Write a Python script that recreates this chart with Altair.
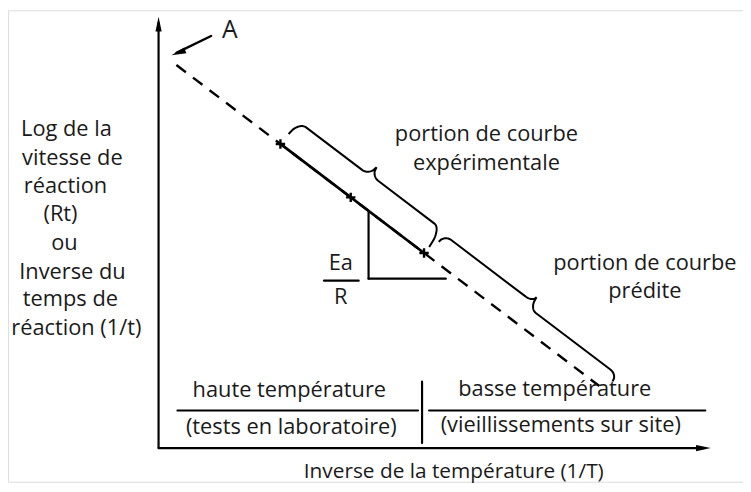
import altair as alt
import numpy as np
import pandas as pd

# ---- frame: data units laid out on a 751x492 sheet ----
W, H = 742, 476
FONT = "Open Sans"
INK = "#1a1a1a"
FS = 22

# ---- axes (schematic) ----
y_axis_x = [160, 160]
y_axis_y = [450, 15]
x_axis_x = [160, 717]
x_axis_y = [450, 450]

# ---- Arrhenius line: log rate vs 1/T ----
line_anchor = (283.0, 143.0)
line_slope = 0.759
dashed_x = [178, 605]
solid_x = [283, 428]
cross_x = [283, 354, 428]

def line_y(x):
    return line_anchor[1] + line_slope * (np.asarray(x, float) - line_anchor[0])

# slope triangle (Ea / R)
tri_x = 372
tri_bottom = 279
tri_right = 450

# point A arrow
a_from = (213, 34)
a_to = (174, 53)

# brace parameters (along-line start/end, offsets)
braces = [
    dict(name="exp", s0=0.5, s1=182.5, v0=13, a1=29, peak=40, a2=30, v1=8, r=10),
    dict(name="pred", s0=187, s1=412, v0=18, a1=27, peak=33, a2=20, v1=12, r=9),
]

# bottom temperature table
bottom_rule_y = 412
left_rule = [179, 422]
right_rule = [433, 712]
sep_x = 426
sep_y = [383, 445]

left_lines = ["Log de la", "vitesse de", "réaction", "(Rt)", "ou",
              "Inverse du", "temps de", "réaction (1/t)"]
left_cx = [67, 73, 66, 61, 65, 73, 71, 77]
left_cy = [128, 157, 185, 214, 243, 272, 300, 329]

labels = pd.DataFrame({
    "text": ["portion de courbe", "expérimentale", "portion de courbe", "prédite",
             "haute température", "(tests en laboratoire)", "basse température",
             "(vieillissements sur site)", "Ea", "R"],
    "x": [491, 491, 651, 651, 292, 294, 560, 566, 344, 344],
    "y": [133, 162, 263, 291, 391, 429, 390, 427, 263, 298],
})
title = pd.DataFrame({"text": ["Inverse de la température (1/T)"], "x": [458], "y": [474]})

# ---------- build geometry tables ----------
d = np.array([1.0, line_slope]); d /= np.linalg.norm(d)
n = np.array([d[1], -d[0]])
P0 = np.array(line_anchor)

def brace_pts(b, k=14):
    s0, s1, r = b["s0"], b["s1"], b["r"]
    mid = (s0 + s1) / 2
    w = np.linspace(0, 1, k)
    us, vs = [], []
    us.append(s0 + r * w); vs.append(b["v0"] + (b["a1"] - b["v0"]) * np.sqrt(1 - (1 - w) ** 2))
    us.append(np.array([mid - r])); vs.append(np.array([b["a1"]]))
    us.append(mid - r + r * w); vs.append(b["a1"] + (b["peak"] - b["a1"]) * (1 - np.sqrt(np.clip(1 - w ** 2, 0, 1))))
    us.append(mid + r * w); vs.append(b["a2"] + (b["peak"] - b["a2"]) * (1 - np.sqrt(np.clip(1 - (1 - w) ** 2, 0, 1))))
    us.append(np.array([s1 - r])); vs.append(np.array([b["a2"]]))
    us.append(s1 - r + r * w); vs.append(b["v1"] + (b["a2"] - b["v1"]) * np.sqrt(np.clip(1 - w ** 2, 0, 1)))
    u = np.concatenate(us); v = np.concatenate(vs)
    pts = P0[None, :] + u[:, None] * d[None, :] + v[:, None] * n[None, :]
    return pd.DataFrame({"x": pts[:, 0], "y": pts[:, 1], "o": np.arange(len(u)), "b": b["name"]})

brace_df = pd.concat([brace_pts(b) for b in braces], ignore_index=True)

segs = pd.DataFrame([
    dict(x=y_axis_x[0], y=y_axis_y[0], x2=y_axis_x[1], y2=y_axis_y[1] + 6, w=2.2),
    dict(x=x_axis_x[0], y=x_axis_y[0], x2=x_axis_x[1] - 6, y2=x_axis_y[1], w=2.2),
    dict(x=solid_x[0], y=float(line_y(solid_x[0])), x2=solid_x[1], y2=float(line_y(solid_x[1])), w=2.8),
    dict(x=tri_x, y=float(line_y(tri_x)), x2=tri_x, y2=tri_bottom, w=2.2),
    dict(x=tri_x, y=tri_bottom, x2=tri_right, y2=tri_bottom, w=2.2),
    dict(x=a_from[0], y=a_from[1], x2=a_to[0] + 4, y2=a_to[1] - 2, w=2.4),
    dict(x=left_rule[0], y=bottom_rule_y, x2=left_rule[1], y2=bottom_rule_y, w=2.0),
    dict(x=right_rule[0], y=bottom_rule_y, x2=right_rule[1], y2=bottom_rule_y, w=2.0),
    dict(x=sep_x, y=sep_y[0], x2=sep_x, y2=sep_y[1], w=2.2),
    dict(x=327, y=281, x2=362, y2=281, w=2.2),
])

dash_df = pd.DataFrame([dict(x=dashed_x[0], y=float(line_y(dashed_x[0])),
                             x2=dashed_x[1], y2=float(line_y(dashed_x[1])))])

cross_df = pd.DataFrame({"x": cross_x, "y": line_y(cross_x)})

arrow_df = pd.DataFrame({
    "x": [y_axis_x[1], x_axis_x[1] - 7, a_to[0] + 6],
    "y": [y_axis_y[1] + 7, x_axis_y[1], a_to[1] - 2],
    "ang": [0.0, 90.0, 250.0],
})

left_df = pd.DataFrame({"text": left_lines, "x": left_cx, "y": left_cy})

X = alt.X("x:Q", scale=alt.Scale(domain=[8, 8 + W], nice=False, zero=False), axis=None)
Y = alt.Y("y:Q", scale=alt.Scale(domain=[8, 8 + H], nice=False, zero=False, reverse=True), axis=None)

rules = alt.Chart(segs).mark_rule(color="black", strokeCap="round").encode(
    x=X, y=Y, x2="x2:Q", y2="y2:Q", strokeWidth=alt.StrokeWidth("w:Q", scale=None))

dashed = alt.Chart(dash_df).mark_rule(color="black", strokeWidth=2.4, strokeDash=[12, 9]).encode(
    x=X, y=Y, x2="x2:Q", y2="y2:Q")

brace_lines = alt.Chart(brace_df).mark_line(color="black", strokeWidth=2.0).encode(
    x=X, y=Y, order="o:Q", detail="b:N")

crosses = alt.Chart(cross_df).mark_point(
    shape="M-1,0L1,0M0,-1L0,1", size=90, filled=False, color="black",
    strokeWidth=2.4, angle=0, opacity=1).encode(x=X, y=Y)

arrows = alt.Chart(arrow_df).mark_point(
    shape="M0,-1L0.42,1L-0.42,1Z", size=220, filled=True, color="black", opacity=1).encode(
    x=X, y=Y, angle=alt.Angle("ang:Q", scale=None))

texts = alt.Chart(labels).mark_text(font=FONT, fontSize=FS, color=INK, align="center", baseline="middle").encode(
    x=X, y=Y, text="text:N")

left_texts = alt.Chart(left_df).mark_text(font=FONT, fontSize=FS, color=INK, align="center", baseline="middle").encode(
    x=X, y=Y, text="text:N")

title_text = alt.Chart(title).mark_text(font=FONT, fontSize=21, color=INK, align="center", baseline="middle").encode(
    x=X, y=Y, text="text:N")

a_label = alt.Chart(pd.DataFrame({"text": ["A"], "x": [232], "y": [28]})).mark_text(
    font=FONT, fontSize=25, color=INK, align="center", baseline="middle").encode(x=X, y=Y, text="text:N")

chart = alt.layer(dashed, rules, brace_lines, crosses, arrows, texts, left_texts, title_text, a_label).properties(
    width=W, height=H, padding=0, autosize=alt.AutoSizeParams(type="none")
).configure_view(stroke=None).configure(background="white")

chart.save("out.html", embed_options={"renderer": "svg", "actions": False})
